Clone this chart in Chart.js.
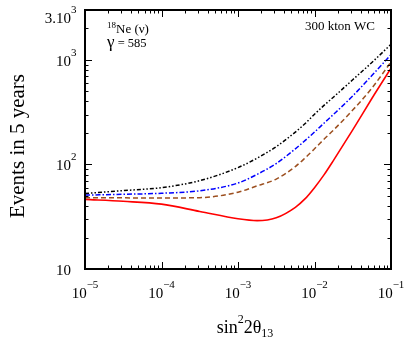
<!DOCTYPE html>
<html>
<head>
<meta charset="utf-8">
<script src="https://cdn.jsdelivr.net/npm/chart.js@4.4.0/dist/chart.umd.min.js"></script>
<style>
  html, body { margin: 0; padding: 0; background: #fff; }
  #wrap { width: 407px; height: 341px; }
</style>
</head>
<body>
<div id="wrap"><canvas id="eventsChart"></canvas></div>
<script>
// sin^2 2theta13 sampling (denser where the curves bend)
const xValues = [1e-5, 3.16e-5, 1e-4, 3.16e-4, 1e-3, 1.78e-3, 3.16e-3, 5.62e-3, 7.5e-3, 1e-2, 1.33e-2, 1.78e-2, 3.16e-2, 5.62e-2, 1e-1];

// events in 5 years
const redSolid        = [46.3, 44.4, 41.7, 35.5, 30.2, 29.0, 30.9, 38.9, 46.8, 60.0, 79.4, 110, 214, 427, 832];
const brownDashed     = [48.0, 47.9, 47.8, 48.1, 54.3, 62.4, 72.4, 95.5, 115, 141, 174, 214, 331, 537, 955];
const blueDashDot     = [50.9, 51.8, 53.0, 56.0, 66.4, 80.4, 102, 141, 169, 204, 248, 302, 452, 708, 1122];
const blackDashDotDot = [52.8, 56.2, 60.0, 70.0, 93.3, 115, 148, 204, 245, 302, 367, 442, 646, 944, 1410];

// axis labels
const xTickValues = [1e-5, 1e-4, 1e-3, 1e-2, 1e-1];
const xTickExps = ['\u22125', '\u22124', '\u22123', '\u22122', '\u22121'];
const yTickValues = [10, 100, 1000, 3000];
const yTickBase = ['10', '10', '10', '3.10'];
const yTickExps = ['', '2', '3', '3'];

const SERIF = '"Liberation Serif", "DejaVu Serif", serif';

function pts(ys) {
    return xValues.map((x, i) => ({ x: x, y: ys[i] }));
}

function logTicks(min, max) {
    const out = [];
    for (let e = Math.floor(Math.log10(min)); e <= Math.ceil(Math.log10(max)); e++) {
        for (let k = 1; k <= 9; k++) {
            const v = k * Math.pow(10, e);
            if (v >= min * 0.999 && v <= max * 1.001) out.push({ value: v, major: k === 1 });
        }
    }
    return out;
}

function supText(ctx, base, sup, x, y, baseSize, supSize, supRise, align) {
    ctx.font = baseSize + 'px ' + SERIF;
    const wb = ctx.measureText(base).width;
    ctx.font = supSize + 'px ' + SERIF;
    const ws = sup ? ctx.measureText(sup).width : 0;
    let x0 = x;
    if (align === 'center') x0 = x - (wb + ws) / 2;
    if (align === 'right') x0 = x - wb;
    ctx.textAlign = 'left';
    ctx.textBaseline = 'alphabetic';
    ctx.font = baseSize + 'px ' + SERIF;
    ctx.fillText(base, x0, y);
    if (sup) {
        ctx.font = supSize + 'px ' + SERIF;
        ctx.fillText(sup, x0 + wb, y - supRise);
    }
}

const framePlugin = {
    id: 'frame',
    afterDraw(chart) {
        const ctx = chart.ctx;
        const a = chart.chartArea;
        const xs = chart.scales.x;
        const ys = chart.scales.y;
        ctx.save();
        ctx.strokeStyle = '#000';
        ctx.fillStyle = '#000';

        // inward ticks on all four sides
        ctx.lineWidth = 1;
        xs.ticks.forEach(t => {
            const px = Math.round(xs.getPixelForValue(t.value)) + 0.5;
            const len = t.major ? 7 : 3.5;
            ctx.beginPath();
            ctx.moveTo(px, a.bottom); ctx.lineTo(px, a.bottom - len);
            ctx.moveTo(px, a.top); ctx.lineTo(px, a.top + len);
            ctx.stroke();
        });
        ys.ticks.forEach(t => {
            const py = Math.round(ys.getPixelForValue(t.value)) + 0.5;
            const len = t.major ? 7 : 3.5;
            ctx.beginPath();
            ctx.moveTo(a.left, py); ctx.lineTo(a.left + len, py);
            ctx.moveTo(a.right, py); ctx.lineTo(a.right - len, py);
            ctx.stroke();
        });

        // box
        ctx.lineWidth = 2;
        ctx.strokeRect(a.left, a.top, a.right - a.left, a.bottom - a.top);

        // x tick labels
        xTickValues.forEach((v, i) => {
            supText(ctx, '10', xTickExps[i], xs.getPixelForValue(v), 298, 15, 11, 10, 'center');
        });
        // y tick labels
        yTickValues.forEach((v, i) => {
            const py = ys.getPixelForValue(v);
            const y = i === yTickValues.length - 1 ? 23 : py + 6;
            supText(ctx, yTickBase[i], yTickExps[i], 71, y, 15, 11, 10, 'right');
        });

        // x title: sin^2 2theta_13
        ctx.font = '18px ' + SERIF;
        const w1 = ctx.measureText('sin').width;
        const w3 = ctx.measureText('2\u03b8').width;
        ctx.font = '12px ' + SERIF;
        const w2 = ctx.measureText('2').width;
        const w4 = ctx.measureText('13').width;
        let tx = 245 - (w1 + w2 + w3 + w4) / 2;
        const ty = 333;
        ctx.textAlign = 'left';
        ctx.font = '18px ' + SERIF; ctx.fillText('sin', tx, ty); tx += w1;
        ctx.font = '12px ' + SERIF; ctx.fillText('2', tx, ty - 10); tx += w2;
        ctx.font = '18px ' + SERIF; ctx.fillText('2\u03b8', tx, ty); tx += w3;
        ctx.font = '12px ' + SERIF; ctx.fillText('13', tx, ty + 4);

        // y title
        ctx.save();
        ctx.translate(24, 146);
        ctx.rotate(-Math.PI / 2);
        ctx.font = '21px ' + SERIF;
        ctx.textAlign = 'center';
        ctx.fillText('Events in 5 years', 0, 0);
        ctx.restore();

        // annotations
        ctx.textAlign = 'left';
        ctx.font = '9px ' + SERIF;
        ctx.fillText('18', 107, 28);
        const w18 = ctx.measureText('18').width;
        ctx.font = '13px ' + SERIF;
        ctx.fillText('Ne (\u03bd)', 107 + w18, 33);
        ctx.font = '17px ' + SERIF;
        ctx.fillText('\u03b3', 107, 47);
        const wg = ctx.measureText('\u03b3').width;
        ctx.font = '12.5px ' + SERIF;
        ctx.fillText(' = 585', 107 + wg, 47);
        ctx.font = '13px ' + SERIF;
        ctx.textAlign = 'right';
        ctx.fillText('300 kton WC', 375, 30);
        ctx.restore();
    }
};

const ctx = document.getElementById('eventsChart');

new Chart(ctx, {
    type: 'line',
    data: {
        datasets: [
            {
                data: pts(blackDashDotDot),
                borderColor: '#000000',
                borderDash: [4, 2, 1.5, 2, 1.5, 2],
                borderWidth: 1.5
            },
            {
                data: pts(blueDashDot),
                borderColor: '#0000ff',
                borderDash: [5, 2, 1.5, 2],
                borderWidth: 1.5
            },
            {
                data: pts(brownDashed),
                borderColor: '#9c4f1f',
                borderDash: [5, 3],
                borderWidth: 1.5
            },
            {
                data: pts(redSolid),
                borderColor: '#ff0000',
                borderWidth: 1.6
            }
        ]
    },
    options: {
        responsive: true,
        maintainAspectRatio: false,
        animation: false,
        layout: {
            padding: { left: 0, right: 16, top: 10, bottom: 0 }
        },
        elements: {
            point: { radius: 0 },
            line: { cubicInterpolationMode: 'monotone', fill: false }
        },
        plugins: {
            legend: { display: false },
            tooltip: { enabled: false }
        },
        scales: {
            x: {
                type: 'logarithmic',
                min: 1e-5,
                max: 1e-1,
                grid: { display: false },
                border: { display: false },
                ticks: { display: false },
                afterBuildTicks: function(scale) {
                    scale.ticks = logTicks(1e-5, 1e-1);
                },
                afterFit: function(scale) {
                    scale.height = 72;
                }
            },
            y: {
                type: 'logarithmic',
                min: 10,
                max: 3000,
                grid: { display: false },
                border: { display: false },
                ticks: { display: false },
                afterBuildTicks: function(scale) {
                    scale.ticks = logTicks(10, 3000);
                },
                afterFit: function(scale) {
                    scale.width = 85;
                }
            }
        }
    },
    plugins: [framePlugin]
});
</script>
</body>
</html>
